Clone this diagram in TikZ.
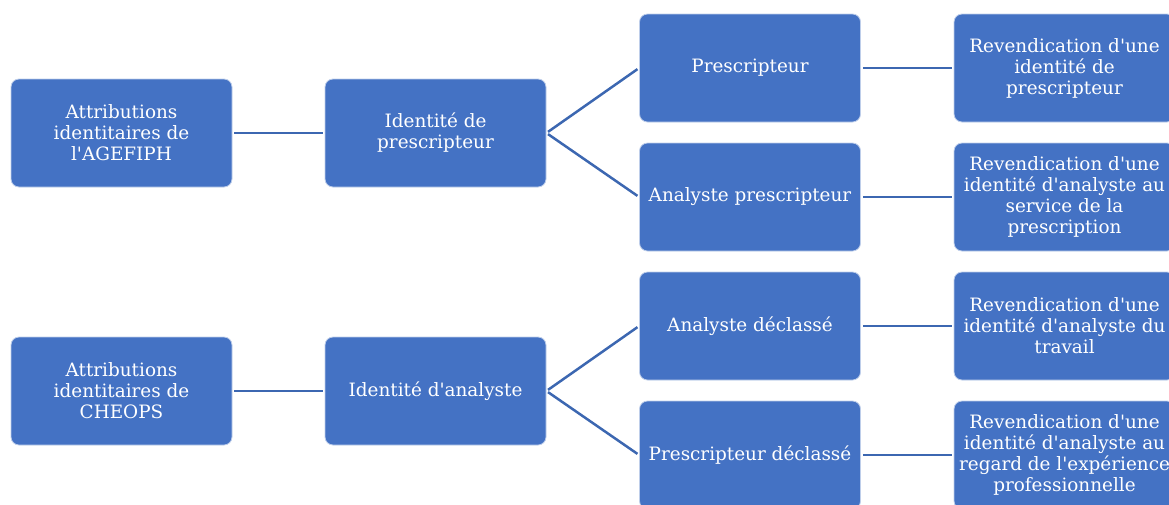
\documentclass[tikz,border=0pt]{standalone}
\usepackage{fontspec}
\setmainfont{DejaVu Serif}
\definecolor{boxblue}{HTML}{4472C4}
\definecolor{lineblue}{HTML}{3C67B1}
\newcommand{\ap}{\textquotesingle}
\begin{document}
\begin{tikzpicture}[x=1pt,y=-1pt,
  box/.style={draw=white!65!boxblue, line width=0.8pt, fill=boxblue, rounded corners=8pt,
    minimum width=221pt, minimum height=108pt, text=white, align=center,
    font=\fontsize{18.4}{21}\selectfont, inner sep=0pt},
  conn/.style={draw=lineblue, line width=2.5pt, shorten <=2pt, shorten >=2pt}]
\useasboundingbox (0,0) rectangle (1169,504);
\node[box] (a1) at (121.5,133) {Attributions\\identitaires de\\l\ap AGEFIPH};
\node[box] (a2) at (121.5,391) {Attributions\\identitaires de\\CHEOPS};
\node[box] (b1) at (435.5,133) {Identité de\\prescripteur};
\node[box] (b2) at (435.5,391) {Identité d\ap analyste};
\node[box] (c1) at (750,68) {Prescripteur};
\node[box] (c2) at (750,197) {Analyste prescripteur};
\node[box] (c3) at (750,326) {Analyste déclassé};
\node[box] (c4) at (750,455) {Prescripteur déclassé};
\node[box] (d1) at (1064.5,68) {Revendication d\ap une\\identité de\\prescripteur};
\node[box] (d2) at (1064.5,197) {Revendication d\ap une\\identité d\ap analyste au\\service de la\\prescription};
\node[box] (d3) at (1064.5,326) {Revendication d\ap une\\identité d\ap analyste du\\travail};
\node[box] (d4) at (1064.5,455) {Revendication d\ap une\\identité d\ap analyste au\\regard de l\ap expérience\\professionnelle};
\draw[conn] (a1.east) -- (b1.west);
\draw[conn] (a2.east) -- (b2.west);
\draw[conn] (b1.east) -- (c1.west);
\draw[conn] (b1.east) -- (c2.west);
\draw[conn] (b2.east) -- (c3.west);
\draw[conn] (b2.east) -- (c4.west);
\draw[conn] (c1.east) -- (d1.west);
\draw[conn] (c2.east) -- (d2.west);
\draw[conn] (c3.east) -- (d3.west);
\draw[conn] (c4.east) -- (d4.west);
\end{tikzpicture}
\end{document}
